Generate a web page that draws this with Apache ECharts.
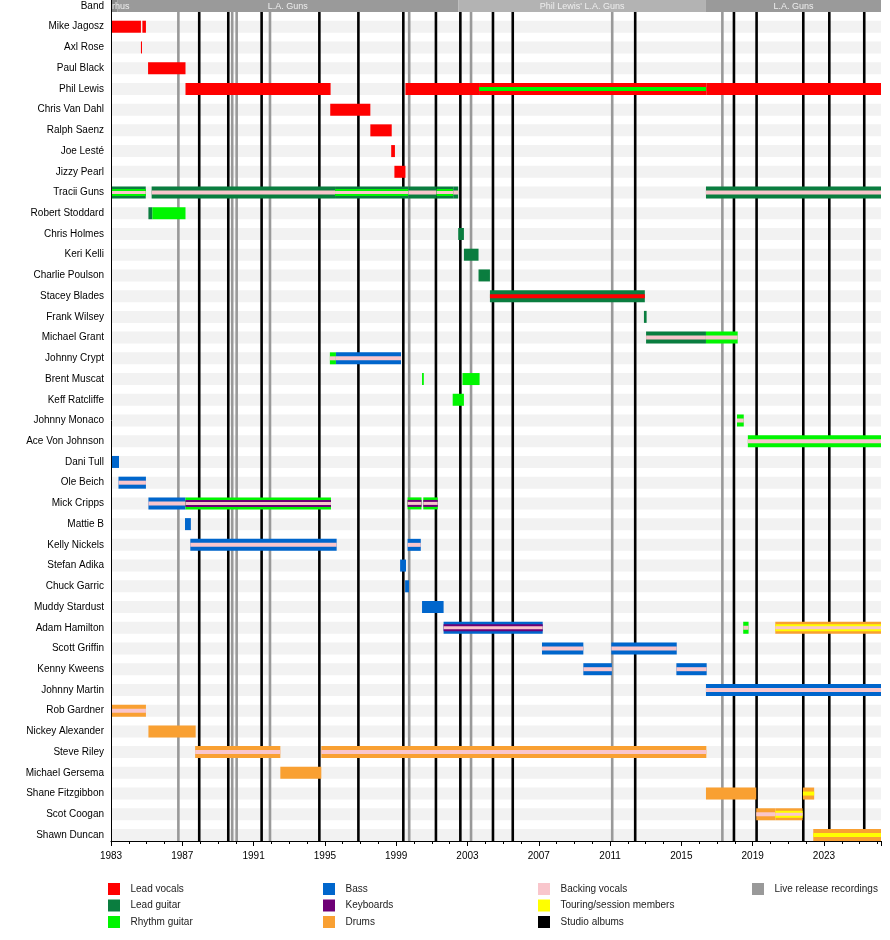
<!DOCTYPE html>
<html><head><meta charset="utf-8">
<script src="https://cdn.jsdelivr.net/npm/echarts@6/dist/echarts.min.js"></script>
<style>html,body{margin:0;padding:0;background:#fff}#c{width:890px;height:940px}</style>
</head><body><div id="c"></div>
<script>
const AXIS_MIN = 1983, AXIS_MAX = 2026.2;
const END = AXIS_MAX;

const rowLabels = ['Band','Mike Jagosz','Axl Rose','Paul Black','Phil Lewis','Chris Van Dahl','Ralph Saenz','Joe Lesté','Jizzy Pearl','Tracii Guns','Robert Stoddard','Chris Holmes','Keri Kelli','Charlie Poulson','Stacey Blades','Frank Wilsey','Michael Grant','Johnny Crypt','Brent Muscat','Keff Ratcliffe','Johnny Monaco','Ace Von Johnson','Dani Tull','Ole Beich','Mick Cripps','Mattie B','Kelly Nickels','Stefan Adika','Chuck Garric','Muddy Stardust','Adam Hamilton','Scott Griffin','Kenny Kweens','Johnny Martin','Rob Gardner','Nickey Alexander','Steve Riley','Michael Gersema','Shane Fitzgibbon','Scot Coogan','Shawn Duncan'];

const bandSegments = [
  ['Pyrrhus', 1983, 1983.35, 'early'],
  ['L.A. Guns', 1983.35, 2002.48, 'main'],
  ["Phil Lewis' L.A. Guns", 2002.48, 2016.38, 'alt'],
  ['L.A. Guns', 2016.38, END, 'main']
];

const studioAlbums = [1987.95, 1989.58, 1991.45, 1994.69, 1996.88, 1999.40, 2001.23, 2002.60, 2004.43, 2005.54, 2012.41, 2017.95, 2019.22, 2021.84, 2023.30, 2025.26];
const liveReleases = [1986.78, 1989.80, 1990.05, 1991.92, 1999.73, 2003.20, 2011.12, 2017.30];

// [member, from, to, roles]
const memberSegments = [
  ['Mike Jagosz', 1983, 1984.68, ['LV']],
  ['Mike Jagosz', 1984.76, 1984.96, ['LV']],
  ['Axl Rose', 1984.68, 1984.74, ['LV']],
  ['Paul Black', 1985.08, 1987.18, ['LV']],
  ['Phil Lewis', 1987.18, 1995.32, ['LV']],
  ['Phil Lewis', 1999.52, 2003.65, ['LV']],
  ['Phil Lewis', 2003.65, 2016.40, ['LV','RG']],
  ['Phil Lewis', 2016.40, END, ['LV']],
  ['Chris Van Dahl', 1995.30, 1997.55, ['LV']],
  ['Ralph Saenz', 1997.55, 1998.75, ['LV']],
  ['Joe Lesté', 1998.72, 1998.93, ['LV']],
  ['Jizzy Pearl', 1998.90, 1999.52, ['LV']],
  ['Tracii Guns', 1983, 1984.95, ['LG','RG','BV']],
  ['Tracii Guns', 1985.28, 1995.57, ['LG','BV']],
  ['Tracii Guns', 1995.57, 1999.68, ['LG','RG','BV']],
  ['Tracii Guns', 1999.68, 2001.27, ['LG','BV']],
  ['Tracii Guns', 2001.27, 2002.20, ['LG','RG','BV']],
  ['Tracii Guns', 2002.20, 2002.48, ['LG','BV']],
  ['Tracii Guns', 2016.38, END, ['LG','BV']],
  ['Robert Stoddard', 1985.10, 1985.32, ['LG']],
  ['Robert Stoddard', 1985.32, 1987.18, ['RG']],
  ['Chris Holmes', 2002.48, 2002.80, ['LG']],
  ['Keri Kelli', 2002.80, 2003.62, ['LG']],
  ['Charlie Poulson', 2003.62, 2004.26, ['LG']],
  ['Stacey Blades', 2004.26, 2012.95, ['LG','LV']],
  ['Frank Wilsey', 2012.90, 2013.05, ['LG']],
  ['Michael Grant', 2013.02, 2016.38, ['LG','BV']],
  ['Michael Grant', 2016.38, 2018.16, ['RG','BV']],
  ['Johnny Crypt', 1995.28, 1995.62, ['RG','BV']],
  ['Johnny Crypt', 1995.62, 1999.27, ['BS','BV']],
  ['Brent Muscat', 2000.45, 2000.55, ['RG']],
  ['Brent Muscat', 2002.72, 2003.68, ['RG']],
  ['Keff Ratcliffe', 2002.17, 2002.80, ['RG']],
  ['Johnny Monaco', 2018.12, 2018.50, ['RG','BV']],
  ['Ace Von Johnson', 2018.73, END, ['RG','BV']],
  ['Dani Tull', 1983, 1983.45, ['BS']],
  ['Ole Beich', 1983.42, 1984.96, ['BS','BV']],
  ['Mick Cripps', 1985.10, 1987.18, ['BS','BV']],
  ['Mick Cripps', 1987.18, 1995.34, ['RG','KB','BV']],
  ['Mick Cripps', 1999.64, 2000.42, ['RG','KB','BV']],
  ['Mick Cripps', 2000.52, 2001.33, ['RG','KB','BV']],
  ['Mattie B', 1987.15, 1987.48, ['BS']],
  ['Kelly Nickels', 1987.45, 1995.66, ['BS','BV']],
  ['Kelly Nickels', 1999.64, 2000.38, ['BS','BV']],
  ['Stefan Adika', 1999.22, 1999.55, ['BS']],
  ['Chuck Garric', 1999.50, 1999.72, ['BS']],
  ['Muddy Stardust', 2000.45, 2001.66, ['BS']],
  ['Adam Hamilton', 2001.66, 2007.22, ['BS','KB','BV']],
  ['Adam Hamilton', 2018.47, 2018.77, ['RG','BV']],
  ['Adam Hamilton', 2020.27, END, ['DR','TR','BV']],
  ['Scott Griffin', 2007.18, 2009.50, ['BS','BV']],
  ['Scott Griffin', 2011.07, 2014.74, ['BS','BV']],
  ['Kenny Kweens', 2009.50, 2011.10, ['BS','BV']],
  ['Kenny Kweens', 2014.72, 2016.42, ['BS','BV']],
  ['Johnny Martin', 2016.38, END, ['BS','BV']],
  ['Rob Gardner', 1983, 1984.96, ['DR','BV']],
  ['Nickey Alexander', 1985.10, 1987.75, ['DR']],
  ['Steve Riley', 1987.72, 1992.50, ['DR','BV']],
  ['Steve Riley', 1994.80, 2016.40, ['DR','BV']],
  ['Michael Gersema', 1992.50, 1994.80, ['DR']],
  ['Shane Fitzgibbon', 2016.38, 2019.20, ['DR']],
  ['Shane Fitzgibbon', 2021.82, 2022.45, ['DR','TR']],
  ['Scot Coogan', 2019.20, 2020.27, ['DR','BV']],
  ['Scot Coogan', 2020.27, 2021.80, ['DR','TR','BV']],
  ['Shawn Duncan', 2022.40, END, ['DR','TR']]
];

const legendItems = [
  ['Lead vocals','LV'],['Lead guitar','LG'],['Rhythm guitar','RG'],
  ['Bass','BS'],['Keyboards','KB'],['Drums','DR'],
  ['Backing vocals','BV'],['Touring/session members','TR'],['Studio albums','SA'],
  ['Live release recordings','LR']
];

const roleColor = {LV:'#ff0000', LG:'#0a7d3f', RG:'#00f500', BS:'#0066cc', KB:'#6e0076', DR:'#f9a032', BV:'#f9c6cc', TR:'#ffff00', SA:'#000000', LR:'#999999'};
const bandColor = {early:'#8a8a8a', main:'#9a9a9a', alt:'#b3b3b3'};
const layerHeights = {1:[12], 2:[12,4], 3:[12,7,3]};
const FONT = "'Liberation Sans', Arial, sans-serif";

const chart = echarts.init(document.getElementById('c'));

const rowIdx = n => rowLabels.indexOf(n);
const lastRow = rowLabels.length - 1;

function rowStripe(params, api) {
  const r = api.value(1);
  const a = api.coord([AXIS_MIN, r]);
  const b = api.coord([AXIS_MAX, r]);
  return {type:'rect', shape:{x:a[0], y:a[1]-6, width:b[0]-a[0], height:12}, style:{fill:'#f2f2f2'}, silent:true};
}
function vline(color) {
  return function(params, api) {
    const yr = api.value(0);
    const top = api.coord([yr, 0]);
    const bot = api.coord([yr, lastRow]);
    return {type:'line', shape:{x1:top[0], y1:top[1]+6, x2:top[0], y2:bot[1]+6}, style:{stroke:color, lineWidth:2.6}, silent:true};
  };
}
function frameLine(params, api) {
  const top = api.coord([AXIS_MIN, 0]);
  const bot = api.coord([AXIS_MIN, lastRow]);
  const x = Math.round(top[0]) + 0.5;
  return {type:'line', shape:{x1:x, y1:top[1]-6, x2:x, y2:bot[1]+6}, style:{stroke:'#000', lineWidth:1}, silent:true};
}
function memberItem(params, api) {
  const seg = memberSegments[params.dataIndex];
  const roles = seg[3];
  const r = api.value(0);
  const a = api.coord([api.value(1), r]);
  const b = api.coord([api.value(2), r]);
  const hs = layerHeights[roles.length];
  const w = Math.max(b[0]-a[0], 1);
  return {type:'group', children: roles.map((role,k)=>({
    type:'rect', shape:{x:a[0], y:a[1]-hs[k]/2, width:w, height:hs[k]}, style:{fill:roleColor[role]}
  }))};
}
function bandRect(params, api) {
  const seg = bandSegments[params.dataIndex];
  const a = api.coord([api.value(0), 0]);
  const b = api.coord([api.value(2), 0]);
  return {type:'rect', shape:{x:a[0], y:a[1]-6, width:b[0]-a[0], height:12}, style:{fill:bandColor[seg[3]]}};
}
function bandLabel(params, api) {
  const seg = bandSegments[params.dataIndex];
  const a = api.coord([api.value(0), 0]);
  const b = api.coord([api.value(2), 0]);
  const left = api.coord([AXIS_MIN, 0])[0];
  const right = api.coord([AXIS_MAX, 0])[0];
  return {type:'text', style:{text:seg[0], x:(a[0]+b[0])/2, y:a[1]+0.5, align:'center', verticalAlign:'middle', fill:'#eeeeee', fontSize:9, fontFamily:FONT},
      clipPath:{type:'rect', shape:{x:left, y:a[1]-6, width:right-left, height:12}}};
}

const legendGraphics = [];
const colX = [108, 323, 538, 752];
const rowY = [889, 905.5, 922];
legendItems.forEach((it, i) => {
  const c = Math.floor(i/3), r = i%3;
  legendGraphics.push({type:'rect', left:colX[c], top:rowY[r]-6, shape:{width:12, height:12}, style:{fill:roleColor[it[1]]}});
  legendGraphics.push({type:'text', left:colX[c]+22.5, top:rowY[r]-6, style:{text:it[0], fill:'#222', fontSize:10, fontFamily:FONT, lineHeight:12}});
});

chart.setOption({
  animation:false,
  backgroundColor:'#fff',
  grid:{left:111, right:9, top:6, bottom:105, containLabel:false},
  xAxis:{type:'value', min:AXIS_MIN, max:AXIS_MAX, interval:4, position:'bottom', offset:6,
    axisLine:{show:true, lineStyle:{color:'#000', width:1}},
    axisTick:{show:true, length:5, lineStyle:{color:'#000'}},
    minorTick:{show:true, splitNumber:4, length:3, lineStyle:{color:'#000'}},
    splitLine:{show:false},
    axisLabel:{color:'#000', fontSize:10, fontFamily:FONT, margin:10, showMaxLabel:false, formatter: v => String(Math.round(v))}
  },
  yAxis:{type:'category', data:rowLabels, inverse:true, boundaryGap:false,
    axisLine:{show:false},
    axisTick:{show:false}, splitLine:{show:false},
    axisLabel:{color:'#000', fontSize:10, fontFamily:FONT, margin:7, interval:0}
  },
  graphic: legendGraphics,
  series:[
    {type:'custom', name:'stripes', renderItem:rowStripe, encode:{x:0, y:1}, z:1, clip:false,
      data: rowLabels.map((n,i)=>[AXIS_MIN, i]).slice(1)},
    {type:'custom', name:'Live release recordings', renderItem:vline(roleColor.LR), encode:{x:0, y:1}, z:2, clip:false,
      data: liveReleases.map(y=>[y, 0])},
    {type:'custom', name:'Studio albums', renderItem:vline(roleColor.SA), encode:{x:0, y:1}, z:3, clip:false,
      data: studioAlbums.map(y=>[y, 0])},
    {type:'custom', name:'members', renderItem:memberItem, encode:{x:[1,2], y:0}, z:4, clip:false,
      data: memberSegments.map(s=>[rowIdx(s[0]), s[1], s[2]])},
    {type:'custom', name:'band', renderItem:bandRect, encode:{x:[0,2], y:1}, z:5, clip:false,
      data: bandSegments.map(s=>[s[1], 0, s[2]])},
    {type:'custom', name:'bandLabels', renderItem:bandLabel, encode:{x:[0,2], y:1}, z:6, clip:false,
      data: bandSegments.map(s=>[s[1], 0, s[2]])},
    {type:'custom', name:'frame', renderItem:frameLine, encode:{x:0, y:1}, z:7, clip:false,
      data: [[AXIS_MIN, 0]]}
  ]
});
</script></body></html>
